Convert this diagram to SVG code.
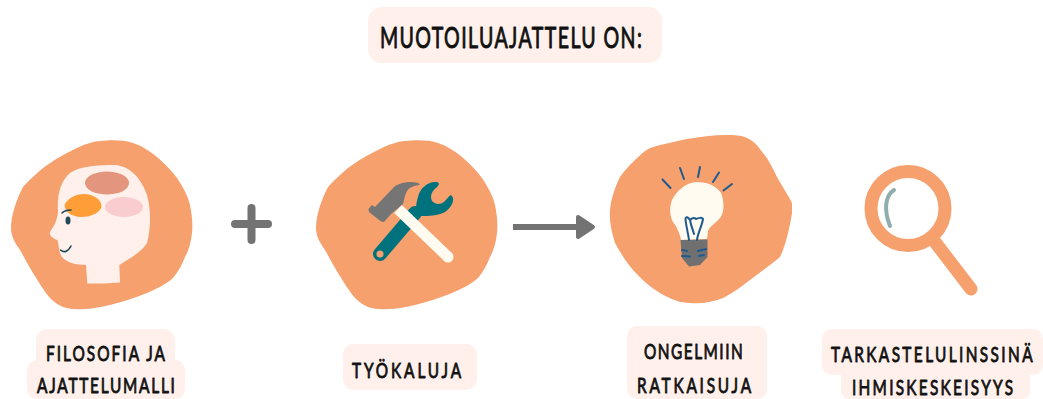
<svg xmlns="http://www.w3.org/2000/svg" width="1043" height="399" viewBox="0 0 1043 399">
<style>
.pad{fill:#FFF0EB}
.blob{fill:#F6A06E}
.t{font-family:"Lato","Liberation Sans",sans-serif;font-weight:400;fill:#111;stroke:#111;stroke-width:.9;stroke-linejoin:round}
.a{font-size:28px}
.b{font-size:22px}
.ray{fill:none;stroke:#1F5A8F;stroke-width:2;stroke-linecap:round;stroke-linejoin:round}
.dark{fill:none;stroke:#1F4A55;stroke-width:1.6;stroke-linecap:round}
</style>
<defs>
<path id="blobA" d="M23 187C29 180 36 174 43 168C51 162 59 157 67 153C75 149 82 145 90 143C100 140 122 139 133 143C142 146 150 151 157 157C165 164 172 171 177 178C183 187 188 196 190 205C192 215 193 224 192 233C191 242 189 250 185 257C182 265 178 272 173 278C165 285 156 289 147 293C135 298 122 302 110 305C101 307 92 309 83 309C76 309.500 69 309 63 307C58 305 54 302 50 298C44 291 38 281 33 273C28 265 24 257 20 250C15 243 11 236 11 228C11 215 17 198 23 187Z"/>
</defs>
<rect width="1043" height="399" fill="#fff"/>
<g id="title">
<rect class="pad" x="368" y="7" width="294" height="56" rx="14"/>
<text class="t a" transform="translate(380 48) scale(.7 1)" textLength="374" lengthAdjust="spacing">MUOTOILUAJATTELU ON:</text>
</g>
<g id="node-filosofia">
<use href="#blobA" class="blob"/>
<path d="M87.300 283.500L86 265C78 264.500 68 264 61.700 256.700C58 250 59 243 57.300 240C53 238 49 236 50 232C54 226 57 221 58 212C57 195 60 182 70 173C80 166 97 165 115 165C130 166 141 178 147 195C151 210 151 228 147 243C140 254 128 259 119.300 265L120 282.500C110 283.500 97 283.500 87.300 283.500Z" fill="#FFF0EB"/>
<ellipse cx="107" cy="183" rx="22" ry="11.500" fill="#E4957D"/>
<path d="M64.500 205C68 197 78 194 84 194C93 194 101 199 101.500 206C101 212 92 217 81 217C72 217 65 212 64.500 205Z" fill="#FF9D37"/>
<ellipse cx="124" cy="207" rx="19" ry="10" fill="#F9CCD0"/>
<ellipse cx="68" cy="220.500" rx="2.500" ry="4" fill="#1F4A55"/>
<path class="dark" d="M62 213C65 210 68 210 71 210"/>
<path class="dark" d="M60.500 250C64 253 68 252 71 246"/>
<rect class="pad" x="36" y="329" width="139" height="40" rx="12"/>
<rect class="pad" x="27" y="360" width="158" height="39" rx="10"/>
<text class="t b" transform="translate(46 360.500) scale(.7 1)" textLength="170" lengthAdjust="spacing">FILOSOFIA JA</text>
<text class="t b" transform="translate(37 393) scale(.7 1)" textLength="197" lengthAdjust="spacing">AJATTELUMALLI</text>
</g>
<g id="node-tyokaluja">
<use href="#blobA" class="blob" x="305"/>
<path d="M380 254L415 213" stroke="#00727D" stroke-width="14" stroke-linecap="round"/>
<path d="M413 217C417 213 415 206 418 197C420 188 428 181 437 182C440 183 439 185 437 187C431 192 430 196 432 201C436 205 441 205 445 201C449 197 450 194 452 196C455 200 452 207 445 212C438 216 428 216 421 216Z" fill="#00727D"/>
<circle cx="380" cy="254" r="3.500" fill="#F6A06E"/>
<path d="M368.500 209L372 205L375 207L395 186C402 182 411 181 418 183C420 184 420 185 419 185C413 186 409 187 406 193C404 198 404 201 403 204L391 214L384 222L381 221.500L369 212Z" fill="#757575"/>
<path d="M398 209L448 257" stroke="#FFFBF0" stroke-width="11"/>
<circle cx="448" cy="257" r="5.500" fill="#FFFBF0"/>
<rect class="pad" x="343" y="344" width="134" height="46" rx="11"/>
<text class="t b" transform="translate(352 378) scale(.7 1)" textLength="156" lengthAdjust="spacing">TYÖKALUJA</text>
</g>
<g id="node-ongelmiin">
<path class="blob" d="M633 162C628 167 624 171 620 177C615 187 611 199 610 210C609 222 612 233 615 243C620 252 626 262 633 270C641 279 650 287 660 293C670 299 680 303 690 303C702 304 713 302 723 298C733 293 741 287 750 280C760 272 771 265 780 257C786 245 790 226 792 213C792 209 792 206 792 203C788 195 782 186 777 177C773 169 769 160 763 153C758 146 754 141 747 138C741 135 734 135 727 135C713 135 700 137 687 139C674 142 662 144 650 148C644 151 638 157 633 162Z"/>
<path d="M681 240L707 239L708 231C710 226 716 223 720 218C725 212 724 200 721 193C716 185 706 182 696 182C686 183 677 190 672 200C669 208 670 216 673 222C677 227 680 234 681 240Z" fill="#FFFBF0"/>
<path d="M680.500 240L707.500 239.500L707.500 257L700 265L689 266.500L682 258Z" fill="#707070"/>
<path class="ray" d="M662.500 179.500L670.500 188M680 168L684 179M700 167L698 177M719 172.500L713 182M732 184L723.500 190.500"/>
<path class="ray" d="M689 240C688 232 686 226 685.500 219C686 216 688 217 690 220C692 218 694 217 696 219C698 218 702 217 703 219C702 226 698 232 697 240M690 220C691 226 693 230 694 234"/>
<path class="ray" d="M682 250L687 251M698 251L706 249M682 256L690 256.500M699 256L704 255"/>
<rect class="pad" x="627" y="326" width="140" height="73" rx="10"/>
<text class="t b" transform="translate(644 359) scale(.7 1)" textLength="141" lengthAdjust="spacing">ONGELMIIN</text>
<text class="t b" transform="translate(637 393) scale(.7 1)" textLength="163" lengthAdjust="spacing">RATKAISUJA</text>
</g>
<g id="node-tarkastelulinssina">
<circle cx="908" cy="208.500" r="37" fill="none" stroke="#F6A06E" stroke-width="13"/>
<path d="M935 242L971 289" fill="none" stroke="#F6A06E" stroke-width="13" stroke-linecap="round"/>
<path d="M894 190C886 195 883 208 890 226" fill="none" stroke="#8FADAD" stroke-width="4" stroke-linecap="round"/>
<rect class="pad" x="822" y="329" width="221" height="46" rx="10"/>
<rect class="pad" x="841" y="368" width="189" height="31" rx="8"/>
<text class="t b" transform="translate(831 362) scale(.7 1)" textLength="288" lengthAdjust="spacing">TARKASTELULINSSINÄ</text>
<text class="t b" transform="translate(852 394.500) scale(.7 1)" textLength="230" lengthAdjust="spacing">IHMISKESKEISYYS</text>
</g>
<g id="connectors">
<path d="M251.500 208V240M235 224H268" fill="none" stroke="#737373" stroke-width="8" stroke-linecap="round"/>
<path d="M513 227H580" fill="none" stroke="#737373" stroke-width="6"/>
<path d="M578 217L593 227L578 237Z" fill="#737373" stroke="#737373" stroke-width="4" stroke-linejoin="round"/>
</g>
</svg>
